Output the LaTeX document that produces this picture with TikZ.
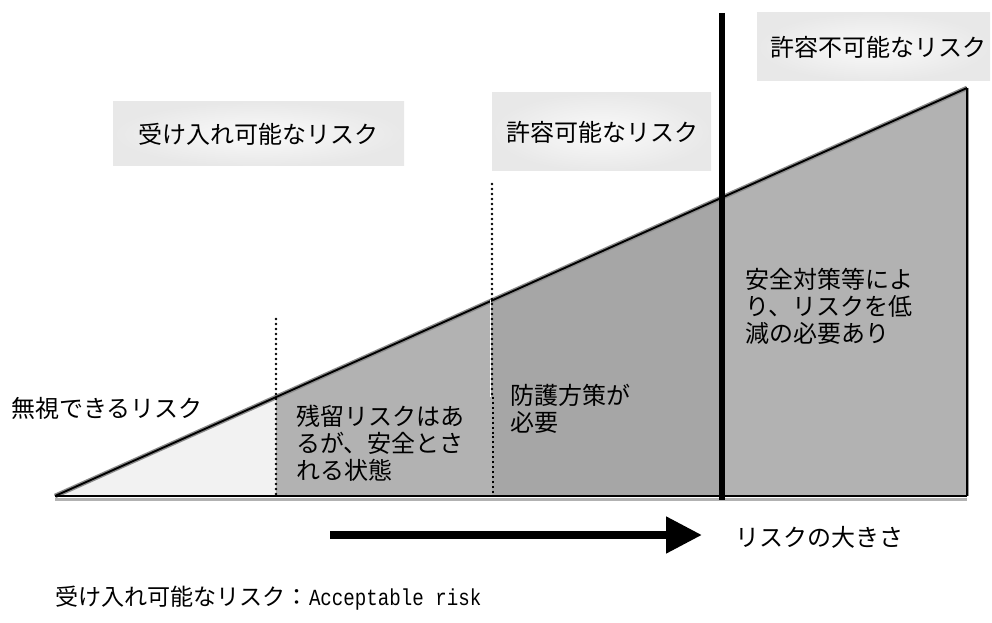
\documentclass[tikz,border=0pt]{standalone}
\usepackage{fontspec}
\setmainfont{Noto Sans CJK JP}
\newfontfamily\monofont[FakeStretch=0.83]{Liberation Mono}
\usetikzlibrary{arrows.meta}
\tikzset{
  lbl/.style={font=\fontsize{18}{20.25}\selectfont, inner sep=0pt, align=left},
  hbox/.style={shading=radial, inner color=black!2, outer color=black!9},
  dotmark/.style={fill=black},
  thindash/.style={line width=0.8pt, dash pattern=on 1.5pt off 2.2pt},
}
\begin{document}
\begin{tikzpicture}[x=0.75pt,y=-0.75pt]
\useasboundingbox (0,0) rectangle (992,623);
% key points of the triangle
\coordinate (A) at (55,496);
\coordinate (B) at (967,88);
\coordinate (C) at (967,496);
% region fills
\fill[black!5]  (55,496) -- (276,397.1) -- (276,496) -- cycle;
\fill[black!30] (276,397.1) -- (492,300.5) -- (492,496) -- (276,496) -- cycle;
\fill[black!35] (492,300.5) -- (722,197.6) -- (722,496) -- (492,496) -- cycle;
\fill[black!30] (722,197.6) -- (967,88) -- (967,496) -- (722,496) -- cycle;
% outline with soft shadow
\draw[black!45, line width=3.5pt] (A) -- (B);
\draw[black, line width=1.4pt] (A) -- (B);
\draw[black!30, line width=2pt] ([yshift=-2.5pt]A) -- ([yshift=-2.5pt]C);
\draw[black, line width=1.2pt] (A) -- (C);
\draw[black!40, line width=1.2pt] ([xshift=1pt]B) -- ([xshift=1pt]C);
\draw[black, line width=0.8pt] (B) -- (C);
% dotted separators
\foreach \yy in {319,324,...,496} \fill[dotmark] (276,\yy) circle (1.05pt);
\fill[white] (489.5,300) rectangle (491,397);
\foreach \yy in {184,189,...,397} \fill[dotmark] (492,\yy) circle (1.05pt);
\coordinate (d2n) at (493,397);
\coordinate (d2b) at (493,496);
\draw[thindash] (d2n) -- (d2b);
% thick boundary
\coordinate (v1) at (722,13);
\coordinate (v2) at (722,500);
\draw[line width=4.5pt] (v1) -- (v2);
% heading boxes
\shade[hbox] (113,102) rectangle (404,166);
\node[lbl] (acc) at (258,134) {受け入れ可能なリスク};
\shade[hbox] (492,93) rectangle (711,171);
\node[lbl] (tol) at (602,132) {許容可能なリスク};
\shade[hbox] (757,13) rectangle (990,81);
\node[lbl] (intol) at (878,47) {許容不可能なリスク};
% region texts
\node[lbl, anchor=west] (neg) at (11,408) {無視できるリスク};
\node[lbl, anchor=west] (res) at (296,443.5) {残留リスクはあ\\るが、安全とさ\\れる状態};
\node[lbl, anchor=west] (prot) at (510,409) {防護方策が\\必要};
\node[lbl, anchor=west] (red) at (745,306) {安全対策等によ\\り、リスクを低\\減の必要あり};
% arrow
\coordinate (arrS) at (330,535);
\coordinate (arrE) at (702,535);
\draw[line width=6pt, -{Triangle[length=27pt,width=26.25pt]}] (arrS) -- (arrE);
\node[lbl, anchor=west] (size) at (735,537) {リスクの大きさ};
% footnote
\node[inner sep=0pt, anchor=west, font=\fontsize{17.3}{20}\selectfont] (foot) at (55,598)
  {受け入れ可能なリスク：{\monofont Acceptable risk}};
\end{tikzpicture}
\end{document}
